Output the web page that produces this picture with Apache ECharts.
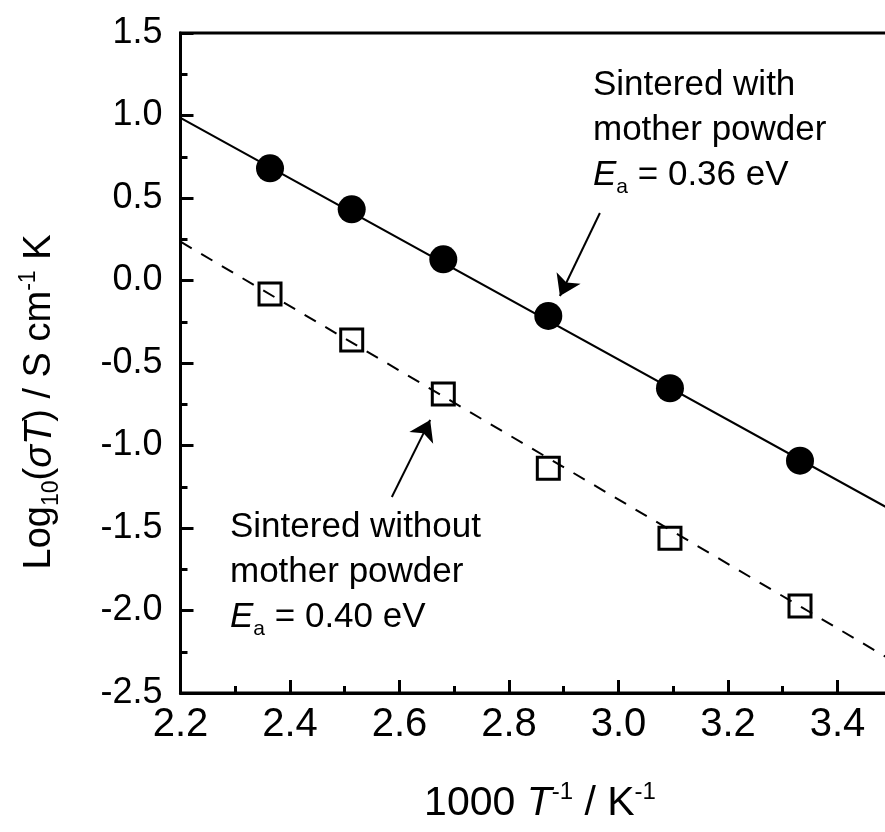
<!DOCTYPE html>
<html>
<head>
<meta charset="utf-8">
<script src="https://cdn.jsdelivr.net/npm/echarts@6/dist/echarts.min.js"></script>
<style>html,body{margin:0;padding:0;background:#fff}#c{width:885px;height:832px}</style>
</head>
<body>
<div id="c"></div>
<script>
// ---- data ----
const xInvT = [2.3635, 2.5127, 2.680, 2.8718, 3.094, 3.3315];
const logSigmaTWith = [0.680, 0.4315, 0.1285, -0.215, -0.653, -1.092];
const logSigmaTWithout = [-0.082, -0.361, -0.688, -1.138, -1.562, -1.973];
const fitX = [2.2, 3.6];
const fitWithY = [0.985, -1.577];
const fitWithoutY = [0.235, -2.499];
const xTicks = [2.2, 2.4, 2.6, 2.8, 3.0, 3.2, 3.4];
const yTicks = [-2.5, -2.0, -1.5, -1.0, -0.5, 0.0, 0.5, 1.0, 1.5];
const arrowWith = [[2.966, 0.409], [2.893, -0.094]];
const arrowWithout = [[2.586, -1.312], [2.656, -0.845]];

const FONT = "'Liberation Sans', Arial, sans-serif";
const chart = echarts.init(document.getElementById('c'), null, {renderer: 'canvas'});

function inList(list, v) { return list.some(t => Math.abs(t - v) < 1e-6); }

const axisCommon = {
  type: 'value',
  axisLine: {show: true, onZero: false, lineStyle: {color: '#000', width: 3}},
  axisTick: {show: true, inside: true, length: 13, lineStyle: {color: '#000', width: 3}},
  minorTick: {show: true, splitNumber: 2, length: 7, lineStyle: {color: '#000', width: 3}},
  splitLine: {show: false},
  minorSplitLine: {show: false}
};

const option = {
  animation: false,
  backgroundColor: '#fff',
  grid: {
    left: 180.5, top: 33, width: 766.5, height: 660,
    containLabel: false, outerBoundsMode: 'none',
    show: true, borderColor: '#000', borderWidth: 3, backgroundColor: 'transparent'
  },
  xAxis: Object.assign({}, axisCommon, {
    min: 2.2, max: 3.6, interval: 0.2,
    axisLabel: {
      color: '#000', fontFamily: FONT, fontSize: 40, margin: 12,
      showMaxLabel: false,
      formatter: v => inList(xTicks, v) ? v.toFixed(1) : ''
    }
  }),
  yAxis: Object.assign({}, axisCommon, {
    min: -2.5, max: 1.5, interval: 0.5,
    axisLabel: {
      color: '#000', fontFamily: FONT, fontSize: 36, margin: 18,
      formatter: v => inList(yTicks, v) ? v.toFixed(1) : ''
    }
  }),
  series: [
    {
      type: 'line', name: 'fit with', showSymbol: false, symbol: 'none',
      data: fitX.map((x, i) => [x, fitWithY[i]]),
      lineStyle: {color: '#000', width: 2}, z: 2
    },
    {
      type: 'line', name: 'fit without', showSymbol: false, symbol: 'none',
      data: fitX.map((x, i) => [x, fitWithoutY[i]]),
      lineStyle: {color: '#000', width: 2, type: [13, 11]}, z: 2
    },
    {
      type: 'scatter', name: 'Sintered with mother powder',
      data: xInvT.map((x, i) => [x, logSigmaTWith[i]]),
      symbol: 'circle', symbolSize: 28,
      itemStyle: {color: '#000', opacity: 1}, z: 3
    },
    {
      type: 'scatter', name: 'Sintered without mother powder',
      data: xInvT.map((x, i) => [x, logSigmaTWithout[i]]),
      symbol: 'rect', symbolSize: 22,
      itemStyle: {color: 'rgba(0,0,0,0)', borderColor: '#000', borderWidth: 3, opacity: 1}, z: 3
    },
    {
      type: 'lines', coordinateSystem: 'cartesian2d', z: 4,
      symbol: ['none', 'arrow'], symbolSize: [12, 20],
      lineStyle: {color: '#000', width: 2, opacity: 1, curveness: 0},
      data: [{coords: arrowWith}, {coords: arrowWithout}]
    }
  ],
  graphic: [
    {
      type: 'text', x: 40, y: 402, rotation: Math.PI / 2,
      style: {
        text: 'Log{sub|10}({i|σT}) / S cm{sup|-1} K',
        fontFamily: FONT, fontSize: 38, fill: '#000',
        align: 'center', verticalAlign: 'middle', lineHeight: 46,
        rich: {
          sub: {fontFamily: FONT, fontSize: 23, lineHeight: 22, verticalAlign: 'bottom', fill: '#000'},
          sup: {fontFamily: FONT, fontSize: 23, lineHeight: 22, verticalAlign: 'top', fill: '#000'},
          i: {fontFamily: FONT, fontSize: 38, fontStyle: 'italic', lineHeight: 46, fill: '#000'}
        }
      }
    },
    {
      type: 'text', x: 540, y: 804,
      style: {
        text: '1000 {i|T}{sup|-1} / K{sup|-1}',
        fontFamily: FONT, fontSize: 41, fill: '#000',
        align: 'center', verticalAlign: 'middle', lineHeight: 48,
        rich: {
          sup: {fontFamily: FONT, fontSize: 24, lineHeight: 24, verticalAlign: 'top', fill: '#000'},
          i: {fontFamily: FONT, fontSize: 41, fontStyle: 'italic', lineHeight: 48, fill: '#000'}
        }
      }
    },
    {
      type: 'text', x: 593, y: 63,
      style: {
        text: 'Sintered with\nmother powder\n{i|E}{sub|a} = 0.36 eV',
        fontFamily: FONT, fontSize: 35, fill: '#000', lineHeight: 45,
        align: 'left', verticalAlign: 'top',
        rich: {
          i: {fontFamily: FONT, fontSize: 35, fontStyle: 'italic', lineHeight: 45, fill: '#000'},
          sub: {fontFamily: FONT, fontSize: 21, lineHeight: 20, verticalAlign: 'bottom', fill: '#000'}
        }
      }
    },
    {
      type: 'text', x: 230, y: 505,
      style: {
        text: 'Sintered without\nmother powder\n{i|E}{sub|a} = 0.40 eV',
        fontFamily: FONT, fontSize: 35, fill: '#000', lineHeight: 45,
        align: 'left', verticalAlign: 'top',
        rich: {
          i: {fontFamily: FONT, fontSize: 35, fontStyle: 'italic', lineHeight: 45, fill: '#000'},
          sub: {fontFamily: FONT, fontSize: 21, lineHeight: 20, verticalAlign: 'bottom', fill: '#000'}
        }
      }
    }
  ]
};
chart.setOption(option);
</script>
</body>
</html>
